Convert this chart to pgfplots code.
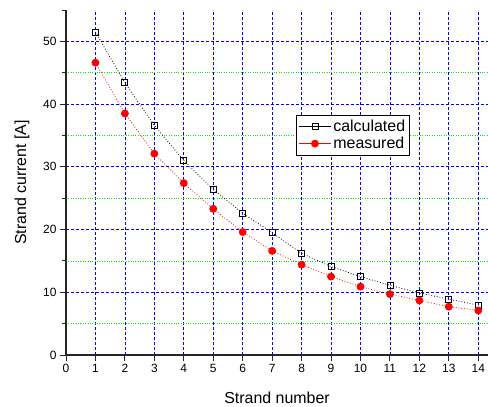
\documentclass[border=0pt]{standalone}
\usepackage{pgfplots}
\pgfplotsset{compat=1.18}
\usepackage{fontspec}
\setmainfont{Liberation Sans}
\definecolor{gridgreen}{RGB}{0,230,0}
\begin{document}
\begin{tikzpicture}
\begin{axis}[name=ax, scale only axis, width=422bp, height=345bp,
  xmin=0, xmax=14.33, ymin=0, ymax=55,
  axis lines*=left,
  axis line style={black!85, line width=1.1pt},
  xtick={0,...,14}, ytick={0,10,...,50}, minor ytick={5,15,...,45},
  extra y ticks={55}, extra y tick labels={},
  extra y tick style={grid=none, major tick length=4bp},
  tick align=outside, major tick length=6bp, minor tick length=4bp,
  tick style={black!85, line width=0.9pt},
  grid=both,
  major grid style={blue, dash pattern=on 3bp off 2bp, line width=0.7pt},
  minor grid style={gridgreen, dotted, line width=0.7pt},
  /pgf/number format/assume math mode=true,
  ticklabel style={font=\fontsize{12}{14}\selectfont},
  xlabel={Strand number}, ylabel={Strand current [A]},
  label style={font=\fontsize{16}{19}\selectfont},
  xlabel style={at={(axis description cs:0.5,-0.125)}, anchor=center},
  ylabel style={at={(axis description cs:-0.104,0.5)}, anchor=center},
  legend style={at={(axis cs:7.82,38.3)}, anchor=north west, draw=black, line width=0.6pt,
    font=\fontsize{16}{18}\selectfont, inner xsep=2pt, inner ysep=3pt, row sep=0pt},
  legend cell align=left,
  legend image code/.code={\draw[#1] (0cm,0cm) -- (32bp,0cm); \draw[#1, solid, mark repeat=2, mark phase=2] plot coordinates {(0cm,0cm) (16bp,0cm) (32bp,0cm)};},
]
\addplot[black, dotted, line width=0.8pt, mark=square, mark size=3bp, mark options={solid, fill=white, line width=0.8pt}] coordinates {
(1,51.5) (2,43.4) (3,36.6) (4,31.0) (5,26.4) (6,22.6) (7,19.5) (8,16.2) (9,14.1) (10,12.5) (11,11.1) (12,9.9) (13,8.9) (14,7.95)};
\addlegendentry{calculated}
\addplot[red, dotted, line width=0.8pt, mark=*, mark size=3.5bp, mark options={solid, fill=red}] coordinates {
(1,46.6) (2,38.5) (3,32.1) (4,27.4) (5,23.3) (6,19.6) (7,16.6) (8,14.4) (9,12.5) (10,10.9) (11,9.7) (12,8.7) (13,7.7) (14,7.1)};
\addlegendentry{measured}
\end{axis}
\pgfresetboundingbox
\path (ax.south west) ++(-66bp,-52bp) rectangle ([shift={(0bp,10bp)}]ax.north east);
\end{tikzpicture}
\end{document}
